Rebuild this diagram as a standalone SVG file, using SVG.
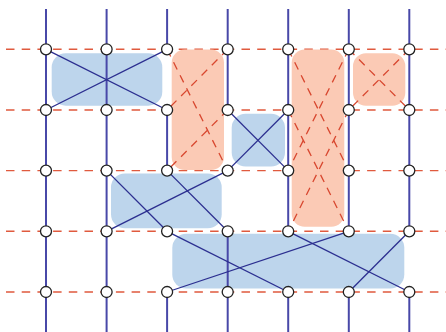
<svg xmlns="http://www.w3.org/2000/svg" width="446" height="332" viewBox="0 0 446 332">
<style>
.bg{fill:#ffffff}
.hline{stroke:#e05a3e;stroke-width:1.4;stroke-dasharray:8.5 7.2;fill:none}
.blue{fill:#bdd5ec}
.orange{fill:#fbcab5}
.odiag{stroke:#d8472f;stroke-width:1.3;stroke-dasharray:8 6.5;fill:none}
.vline{stroke:#4848a8;stroke-width:2;fill:none}
.bdiag{stroke:#2c2f90;stroke-width:1.3;fill:none}
.node{fill:#ffffff;stroke:#222222;stroke-width:1.3}
</style>
<rect class="bg" x="0" y="0" width="446" height="332"/>
<g id="grid-rows">
<line class="hline" x1="6" y1="49.3" x2="446" y2="49.3"/>
<line class="hline" x1="6" y1="110" x2="446" y2="110"/>
<line class="hline" x1="6" y1="170.6" x2="446" y2="170.6"/>
<line class="hline" x1="6" y1="231.3" x2="446" y2="231.3"/>
<line class="hline" x1="6" y1="292" x2="446" y2="292"/>
</g>
<g id="regions">
<rect id="blue-1" class="blue" x="51.7" y="53.3" width="110.6" height="52.4" rx="14"/>
<rect id="blue-2" class="blue" x="231.7" y="113.8" width="53.3" height="52.8" rx="14"/>
<rect id="blue-3" class="blue" x="111" y="173.5" width="110.7" height="54.8" rx="14"/>
<rect id="blue-4" class="blue" x="172.3" y="233.8" width="232" height="54.8" rx="14"/>
<rect id="orange-1" class="orange" x="171.7" y="49.6" width="52.3" height="120.4" rx="13"/>
<rect id="orange-2" class="orange" x="291.7" y="49.6" width="52.6" height="177.1" rx="13"/>
<rect id="orange-3" class="orange" x="353" y="53.3" width="52.3" height="52.4" rx="13"/>
</g>
<g id="connectors">
<g id="dashed-diagonals">
<line class="odiag" x1="167.1" y1="49.3" x2="227.7" y2="170.6"/>
<line class="odiag" x1="227.7" y1="49.3" x2="167.1" y2="110"/>
<line class="odiag" x1="227.7" y1="110" x2="167.1" y2="170.6"/>
<line class="odiag" x1="288.2" y1="49.3" x2="348.8" y2="170.6"/>
<line class="odiag" x1="348.8" y1="49.3" x2="288.2" y2="170.6"/>
<line class="odiag" x1="288.2" y1="110" x2="348.8" y2="231.3"/>
<line class="odiag" x1="348.8" y1="110" x2="288.2" y2="231.3"/>
<line class="odiag" x1="348.8" y1="49.3" x2="409.3" y2="110"/>
<line class="odiag" x1="409.3" y1="49.3" x2="348.8" y2="110"/>
</g>
<g id="vertical-lines">
<line class="vline" x1="46" y1="9" x2="46" y2="332"/>
<line class="vline" x1="106.6" y1="9" x2="106.6" y2="332"/>
<line class="vline" x1="167.1" y1="9" x2="167.1" y2="49.3"/>
<line class="vline" x1="167.1" y1="110" x2="167.1" y2="170.6"/>
<line class="vline" x1="167.1" y1="292" x2="167.1" y2="332"/>
<line class="vline" x1="227.7" y1="9" x2="227.7" y2="110"/>
<line class="vline" x1="227.7" y1="231.3" x2="227.7" y2="332"/>
<line class="vline" x1="288.2" y1="9" x2="288.2" y2="231.3"/>
<line class="vline" x1="288.2" y1="292" x2="288.2" y2="332"/>
<line class="vline" x1="348.8" y1="9" x2="348.8" y2="231.3"/>
<line class="vline" x1="348.8" y1="292" x2="348.8" y2="332"/>
<line class="vline" x1="409.3" y1="9" x2="409.3" y2="231.3"/>
<line class="vline" x1="409.3" y1="292" x2="409.3" y2="332"/>
</g>
<g id="solid-diagonals">
<line class="bdiag" x1="46" y1="49.3" x2="167.1" y2="110"/>
<line class="bdiag" x1="46" y1="110" x2="167.1" y2="49.3"/>
<line class="bdiag" x1="227.7" y1="110" x2="288.2" y2="170.6"/>
<line class="bdiag" x1="227.7" y1="170.6" x2="288.2" y2="110"/>
<line class="bdiag" x1="106.6" y1="170.6" x2="167.1" y2="231.3"/>
<line class="bdiag" x1="167.1" y1="170.6" x2="227.7" y2="231.3"/>
<line class="bdiag" x1="106.6" y1="231.3" x2="227.7" y2="170.6"/>
<line class="bdiag" x1="167.1" y1="231.3" x2="288.2" y2="292"/>
<line class="bdiag" x1="167.1" y1="292" x2="348.8" y2="231.3"/>
<line class="bdiag" x1="288.2" y1="231.3" x2="409.3" y2="292"/>
<line class="bdiag" x1="409.3" y1="231.3" x2="348.8" y2="292"/>
</g>
</g>
<g id="nodes">
<g id="n0-0"><circle class="node" cx="46" cy="49.3" r="5.5"/></g>
<g id="n0-1"><circle class="node" cx="106.6" cy="49.3" r="5.5"/></g>
<g id="n0-2"><circle class="node" cx="167.1" cy="49.3" r="5.5"/></g>
<g id="n0-3"><circle class="node" cx="227.7" cy="49.3" r="5.5"/></g>
<g id="n0-4"><circle class="node" cx="288.2" cy="49.3" r="5.5"/></g>
<g id="n0-5"><circle class="node" cx="348.8" cy="49.3" r="5.5"/></g>
<g id="n0-6"><circle class="node" cx="409.3" cy="49.3" r="5.5"/></g>
<g id="n1-0"><circle class="node" cx="46" cy="110" r="5.5"/></g>
<g id="n1-1"><circle class="node" cx="106.6" cy="110" r="5.5"/></g>
<g id="n1-2"><circle class="node" cx="167.1" cy="110" r="5.5"/></g>
<g id="n1-3"><circle class="node" cx="227.7" cy="110" r="5.5"/></g>
<g id="n1-4"><circle class="node" cx="288.2" cy="110" r="5.5"/></g>
<g id="n1-5"><circle class="node" cx="348.8" cy="110" r="5.5"/></g>
<g id="n1-6"><circle class="node" cx="409.3" cy="110" r="5.5"/></g>
<g id="n2-0"><circle class="node" cx="46" cy="170.6" r="5.5"/></g>
<g id="n2-1"><circle class="node" cx="106.6" cy="170.6" r="5.5"/></g>
<g id="n2-2"><circle class="node" cx="167.1" cy="170.6" r="5.5"/></g>
<g id="n2-3"><circle class="node" cx="227.7" cy="170.6" r="5.5"/></g>
<g id="n2-4"><circle class="node" cx="288.2" cy="170.6" r="5.5"/></g>
<g id="n2-5"><circle class="node" cx="348.8" cy="170.6" r="5.5"/></g>
<g id="n2-6"><circle class="node" cx="409.3" cy="170.6" r="5.5"/></g>
<g id="n3-0"><circle class="node" cx="46" cy="231.3" r="5.5"/></g>
<g id="n3-1"><circle class="node" cx="106.6" cy="231.3" r="5.5"/></g>
<g id="n3-2"><circle class="node" cx="167.1" cy="231.3" r="5.5"/></g>
<g id="n3-3"><circle class="node" cx="227.7" cy="231.3" r="5.5"/></g>
<g id="n3-4"><circle class="node" cx="288.2" cy="231.3" r="5.5"/></g>
<g id="n3-5"><circle class="node" cx="348.8" cy="231.3" r="5.5"/></g>
<g id="n3-6"><circle class="node" cx="409.3" cy="231.3" r="5.5"/></g>
<g id="n4-0"><circle class="node" cx="46" cy="292" r="5.5"/></g>
<g id="n4-1"><circle class="node" cx="106.6" cy="292" r="5.5"/></g>
<g id="n4-2"><circle class="node" cx="167.1" cy="292" r="5.5"/></g>
<g id="n4-3"><circle class="node" cx="227.7" cy="292" r="5.5"/></g>
<g id="n4-4"><circle class="node" cx="288.2" cy="292" r="5.5"/></g>
<g id="n4-5"><circle class="node" cx="348.8" cy="292" r="5.5"/></g>
<g id="n4-6"><circle class="node" cx="409.3" cy="292" r="5.5"/></g>
</g>
</svg>
